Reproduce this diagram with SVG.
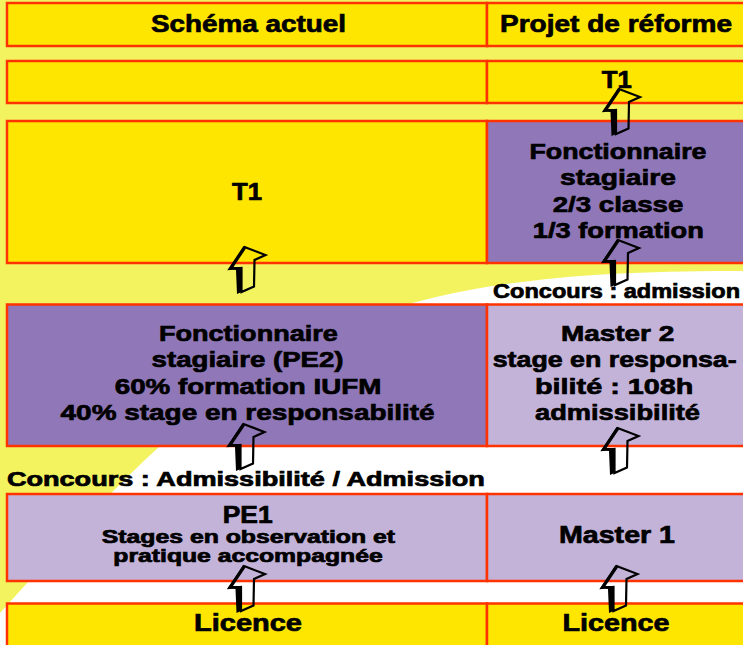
<svg xmlns="http://www.w3.org/2000/svg" width="743" height="645" viewBox="0 0 743 645">
<style>
 .cell{stroke:#FF3300;stroke-width:2.5}
 .y{fill:#FFE600}
 .p{fill:#9078B8}
 .l{fill:#C3B3D8}
 text{font-family:"Liberation Sans",Arial,sans-serif;font-weight:bold;fill:#000;stroke:#000;stroke-width:0.7px;text-anchor:middle}
 .h{font-size:24px}
 .b{font-size:22.5px}
 .s{font-size:18px}
 .c{font-size:20px}
</style>
<defs>
 <g id="arrow">
  <path d="M0,0 L21,8 L10,13 L9.5,39.5 L-3,45 L-3,21 L-15,22 Z" fill="none" stroke="#000" stroke-width="2.2" stroke-linejoin="miter"/>
  <path d="M-16,22 L-1,-1 L1.5,1.5 L-11,20 L-3,20 L-3,45 L-7.5,47 L-8.5,23 Z" fill="#000"/>
 </g>
</defs>
<g id="background">
 <rect width="743" height="645" fill="#F3F35F"/>
 <path d="M0,613 C50,558 109,492 159,447 C309,312 443,270 743,271 L743,645 L0,645 Z" fill="#FFFFFF"/>
</g>

<g id="header-left"><rect class="cell y" x="7" y="3" width="480" height="43"/><text class="h" x="248.4" y="32" textLength="195" lengthAdjust="spacingAndGlyphs">Schéma actuel</text></g>
<g id="header-right"><rect class="cell y" x="487" y="3" width="262" height="43"/><text class="h" x="616" y="32" textLength="232" lengthAdjust="spacingAndGlyphs">Projet de réforme</text></g>

<g id="row2-left"><rect class="cell y" x="7" y="61" width="480" height="42"/></g>
<g id="row2-right"><rect class="cell y" x="487" y="61" width="262" height="42"/><text class="h" x="616.7" y="88" textLength="30" lengthAdjust="spacingAndGlyphs">T1</text></g>

<g id="row3-left"><rect class="cell y" x="7" y="121" width="480" height="142"/><text class="h" x="247" y="200" textLength="30" lengthAdjust="spacingAndGlyphs">T1</text></g>
<g id="row3-right"><rect class="cell p" x="487" y="121" width="262" height="142"/>
 <text class="b" x="618" y="159" textLength="177" lengthAdjust="spacingAndGlyphs">Fonctionnaire</text>
 <text class="b" x="618" y="185" textLength="116" lengthAdjust="spacingAndGlyphs">stagiaire</text>
 <text class="b" x="618" y="211.7" textLength="130.6" lengthAdjust="spacingAndGlyphs">2/3 classe</text>
 <text class="b" x="618.3" y="238" textLength="171" lengthAdjust="spacingAndGlyphs">1/3 formation</text>
</g>

<g id="label-concours-admission"><text class="c" x="616.6" y="298" textLength="247" lengthAdjust="spacingAndGlyphs">Concours : admission</text></g>

<g id="row4-left"><rect class="cell p" x="7" y="304.5" width="480" height="141.5"/>
 <text class="b" x="248.4" y="341" textLength="179" lengthAdjust="spacingAndGlyphs">Fonctionnaire</text>
 <text class="b" x="247.6" y="367" textLength="192" lengthAdjust="spacingAndGlyphs">stagiaire (PE2)</text>
 <text class="b" x="248" y="394" textLength="266.5" lengthAdjust="spacingAndGlyphs">60% formation IUFM</text>
 <text class="b" x="247.6" y="420" textLength="374" lengthAdjust="spacingAndGlyphs">40% stage en responsabilité</text>
</g>
<g id="row4-right"><rect class="cell l" x="487" y="304.5" width="262" height="141.5"/>
 <text class="b" x="617.6" y="340.7" textLength="113.3" lengthAdjust="spacingAndGlyphs">Master 2</text>
 <text class="b" x="614.7" y="366.7" textLength="244" lengthAdjust="spacingAndGlyphs">stage en responsa-</text>
 <text class="b" x="614.2" y="394" textLength="158.3" lengthAdjust="spacingAndGlyphs">bilité : 108h</text>
 <text class="b" x="617.5" y="420" textLength="165" lengthAdjust="spacingAndGlyphs">admissibilité</text>
</g>

<g id="label-concours-left"><text class="c" x="245.9" y="486" textLength="478" lengthAdjust="spacingAndGlyphs">Concours : Admissibilité / Admission</text></g>

<g id="row5-left"><rect class="cell l" x="7" y="494" width="480" height="87"/>
 <text class="h" x="247.7" y="522.7" textLength="50" lengthAdjust="spacingAndGlyphs">PE1</text>
 <text class="s" x="248.4" y="543.3" textLength="293.3" lengthAdjust="spacingAndGlyphs">Stages en observation et</text>
 <text class="s" x="248" y="561.7" textLength="269.3" lengthAdjust="spacingAndGlyphs">pratique accompagnée</text>
</g>
<g id="row5-right"><rect class="cell l" x="487" y="494" width="262" height="87"/>
 <text class="h" x="617" y="543" textLength="116" lengthAdjust="spacingAndGlyphs">Master 1</text>
</g>

<g id="row6-left"><rect class="cell y" x="7" y="603.5" width="480" height="50"/><text class="h" x="248" y="631" textLength="108" lengthAdjust="spacingAndGlyphs">Licence</text></g>
<g id="row6-right"><rect class="cell y" x="487" y="603.5" width="262" height="50"/><text class="h" x="616" y="631" textLength="107" lengthAdjust="spacingAndGlyphs">Licence</text></g>

<g id="connectors">
 <use href="#arrow" transform="translate(619,89)"/>
 <use href="#arrow" transform="translate(618,240)"/>
 <use href="#arrow" transform="translate(244.5,247)"/>
 <use href="#arrow" transform="translate(243.5,424)"/>
 <use href="#arrow" transform="translate(617.5,428)"/>
 <use href="#arrow" transform="translate(244,566)"/>
 <use href="#arrow" transform="translate(616.5,566)"/>
</g>
</svg>
